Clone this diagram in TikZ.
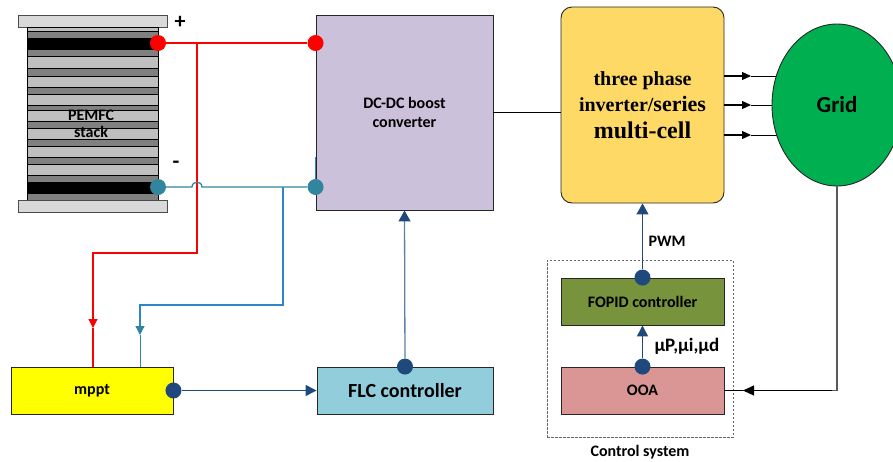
\documentclass[tikz,border=0pt]{standalone}
\usepackage{fontspec}
\setmainfont{Carlito}
\newfontfamily\timesbold{Liberation Serif}
\usetikzlibrary{shapes.geometric,arrows.meta,backgrounds}

\definecolor{platec}{HTML}{D9D9D9}
\definecolor{bandc}{HTML}{BFBFBF}
\definecolor{corec}{HTML}{808080}
\definecolor{lav}{HTML}{CCC1DA}
\definecolor{invc}{HTML}{FFD966}
\definecolor{gridc}{HTML}{00B050}
\definecolor{fopidc}{HTML}{77933C}
\definecolor{ooac}{HTML}{D99694}
\definecolor{mpptc}{HTML}{FFFF00}
\definecolor{flcc}{HTML}{92CDDC}
\definecolor{tealc}{HTML}{31859C}
\definecolor{bluec}{HTML}{2E86C8}
\definecolor{navy}{HTML}{1F497D}
\definecolor{steel}{HTML}{5F7FA8}

\begin{document}
\begin{tikzpicture}[x=1pt,y=-1pt,
  font=\bfseries\fontsize{16}{19}\selectfont,
  blk/.style={draw=black!85, line width=0.9pt, inner sep=0pt, align=center, text=black},
  dotr/.style={circle, fill=red, minimum size=16pt, inner sep=0pt},
  dott/.style={circle, fill=tealc, minimum size=16pt, inner sep=0pt},
  dotn/.style={circle, fill=navy, minimum size=16pt, inner sep=0pt},
  redwire/.style={draw=red, line width=1.2pt},
  tealwire/.style={draw=tealc, line width=1.3pt},
  bluewire/.style={draw=bluec, line width=1.2pt},
  navyarrow/.style={draw=navy, line width=1.4pt, -{Triangle[length=11pt,width=11pt]}},
  steelarrow/.style={draw=steel, line width=1.3pt, -{Triangle[length=11pt,width=12pt,color=navy]}},
  pwmarrow/.style={draw=navy, line width=1pt, -{Triangle[length=11pt,width=12pt]}},
  blackarrow/.style={draw=black, line width=1.2pt, -{Triangle[length=9pt,width=8pt]}},
  wire/.style={draw=black, line width=1pt},
  graywire/.style={draw=black!65, line width=1.4pt}]

\useasboundingbox (0,0) rectangle (893,461);

% ---- fuel cell stack ----
\filldraw[fill=platec, draw=black!70, line width=0.8pt] (18,15) rectangle (167,27);
\filldraw[fill=corec, draw=black, line width=0.8pt] (27,27) rectangle (158,200);
\foreach \ta/\tb in {27/31, 56.7/68.3, 76/87.3, 94.3/105.3, 110.7/121.7, 128.3/139.3, 146/157.3, 164.3/175}
  \filldraw[fill=bandc, draw=black, line width=0.6pt] (27,\ta) rectangle (158,\tb);
\foreach \ta/\tb in {37.7/50, 181.7/194}
  \fill[black] (27,\ta) rectangle (158,\tb);
\filldraw[fill=platec, draw=black!70, line width=0.8pt] (18,200) rectangle (167,212);
\node[align=center, font=\bfseries\fontsize{16}{17}\selectfont] (stacklbl) at (91,124) {PEMFC\\stack};
\node[font=\bfseries\fontsize{22}{24}\selectfont] (plus) at (180,22) {+};
\node[font=\bfseries\fontsize{22}{24}\selectfont] (minus) at (176,165) {-};

% ---- blocks ----
\node[blk, fill=lav, minimum width=177pt, minimum height=195pt] (dc) at (404.5,112.5) {DC-DC boost\\converter};
\node[blk, fill=invc, rounded corners=11pt, minimum width=163pt, minimum height=196pt,
      font=\timesbold\bfseries\fontsize{20}{23}\selectfont] (inv) at (642.5,105)
      {three phase\\[3pt]inverter/{\fontsize{22}{23}\selectfont series}\\[4pt]{\fontsize{24}{27}\selectfont multi-cell}};
\node[blk, ellipse, fill=gridc, minimum width=130pt, minimum height=162pt,
      font=\bfseries\fontsize{23}{26}\selectfont] (grid) at (837,105) {Grid};
\node[draw=black!60, dashed, line width=0.8pt, dash pattern=on 2.5pt off 1.5pt,
      minimum width=186pt, minimum height=177pt, inner sep=0pt] (ctrl) at (640,348.5) {};
\node[blk, fill=fopidc, minimum width=163pt, minimum height=47pt] (fopid) at (642.5,301.5) {FOPID controller};
\node[blk, fill=ooac, minimum width=163pt, minimum height=47pt] (ooa) at (642.5,390.5) {OOA};
\node[blk, fill=mpptc, minimum width=162pt, minimum height=47pt] (mppt) at (92,390.5) {mppt};
\node[blk, fill=flcc, minimum width=176pt, minimum height=47pt,
      font=\bfseries\fontsize{20}{22}\selectfont] (flc) at (405,390.5) {FLC controller};
\node[font=\bfseries\fontsize{16}{18}\selectfont] (ctrllbl) at (640,452) {Control system};

% ---- stack terminals and converter inputs ----
\node[dotr] (sp) at (158,43) {};
\node[dott] (sn) at (158,187) {};
\node[dotr] (dcp) at (dc.west |- sp) {};
\node[dott] (dcn) at (dc.west |- sn) {};

% positive rail and its sense line to the MPPT
\coordinate (rj) at (197,43);
\coordinate (rd) at (93,328);
\draw[redwire] (sp) -- (dcp);
\draw[redwire, -{Triangle[length=9pt,width=9pt]}] (rj) -- (197,253) -| (rd);
\draw[redwire] (rd) -- (rd |- mppt.north);

% negative rail (hopping over the red line) and its sense line
\draw[tealwire] (sn) -- (192,187) .. controls (192,180.5) and (202,180.5) .. (202,187) -- (dcn);
\draw[bluewire] (dcn) -- ++(0,-30);
\coordinate (bj) at (283,187);
\coordinate (bd) at (140,335);
\draw[bluewire, -{Triangle[length=9pt,width=9pt,color=tealc]}] (bj) -- (283,305) -| (bd);
\draw[tealwire, line width=1pt] (bd) -- (bd |- mppt.north);

% ---- control signals ----
\node[dotn] (mo) at (mppt.east) {};
\draw[navyarrow] (mo) -- (flc.west);
\node[dotn] (fo) at (flc.north) {};
\draw[steelarrow] (fo) -- (dc.south);
\node[dotn] (oo) at (ooa.north) {};
\draw[navyarrow] (oo) -- (fopid.south);
\node[dotn] (fp) at (fopid.north) {};
\draw[pwmarrow] (fp) -- (inv.south);
\node[anchor=west] (pwm) at (645,241) {PWM};
\node[anchor=west, font=\bfseries\fontsize{19}{21}\selectfont] (gains) at (651,346) {µP,µi,µd};

% ---- power path ----
\draw[wire] (dc.east) -- (dc.east -| inv.west);
\foreach \yy/\nm in {76/a, 105/b, 135/c}{
  \coordinate (t\nm) at (751,\yy);
  \draw[blackarrow] (inv.east |- t\nm) -- (t\nm);
  \begin{scope}[on background layer]
    \draw[wire] (t\nm) -- (grid.center |- t\nm);
  \end{scope}
}

% ---- grid measurement fed back to the optimiser ----
\coordinate (ta) at (743,390.5);
\draw[graywire] (grid.south) |- (ta);
\draw[wire, -{Triangle[length=11pt,width=10pt]}] (ta -| grid.south) ++(-5,0) -- (ta);
\draw[wire] (ta) -- (ooa.east);
\end{tikzpicture}
\end{document}
